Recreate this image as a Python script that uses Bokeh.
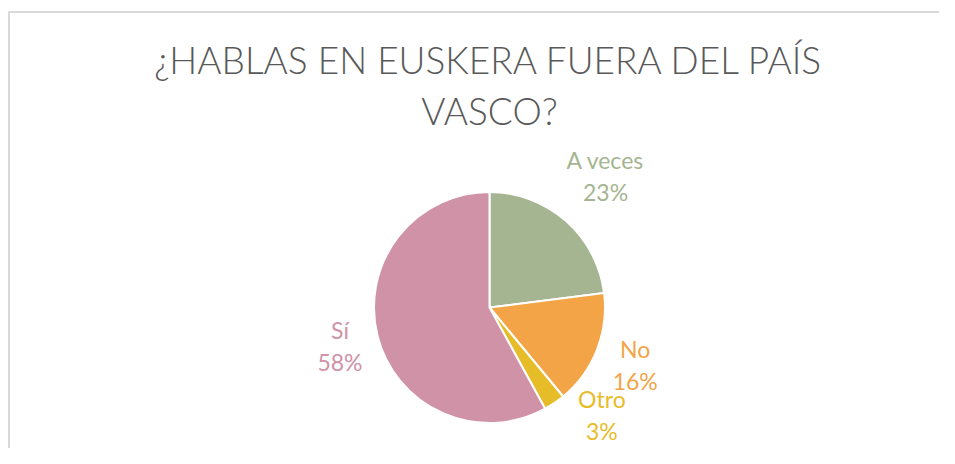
import math
from bokeh.plotting import figure
from bokeh.models import Range1d, ColumnDataSource
from bokeh.core.properties import value
from bokeh.embed import file_html
from bokeh.resources import INLINE

# ---- data ----
title_lines = ["¿HABLAS EN EUSKERA FUERA DEL PAÍS", "VASCO?"]
categories = ["A veces", "No", "Otro", "Sí"]
values = [23, 16, 3, 58]
colors = ["#A5B592", "#F3A447", "#E7BC29", "#D092A7"]

W, H = 939, 448
p = figure(width=W, height=H, output_backend="svg", toolbar_location=None,
           x_range=Range1d(0, W), y_range=Range1d(0, H), min_border=0)
p.axis.visible = False
p.grid.visible = False
p.outline_line_color = None
p.background_fill_color = "white"
p.border_fill_color = "white"

# frame of the chart area (decorative)
p.line(x=[8.5, 8.5, W + 5], y=[-5, 436.5, 436.5], line_color="#D9D9D9", line_width=2)

# title
p.text(x=[489, 489], y=[389, 338], text=title_lines,
       text_font=value("Lato Light"), text_font_size="37px", text_color="#595959",
       text_align="center", text_baseline="middle")

# pie
cx, cy, R = 489, 141, 115.5
total = sum(values)
starts, ends, mids = [], [], []
cum = 0.0
for v in values:
    a0 = math.pi / 2 - 2 * math.pi * cum / total
    cum += v
    a1 = math.pi / 2 - 2 * math.pi * cum / total
    starts.append(a0)
    ends.append(a1)
    mids.append((a0 + a1) / 2)

src = ColumnDataSource(dict(start=starts, end=ends, color=colors, cat=categories, val=values))
p.wedge(x=cx, y=cy, radius=R, start_angle="start", end_angle="end", direction="clock",
        fill_color="color", line_color="white", line_width=2, source=src)

# data labels outside
fs = 23
gap = 15
lx, ly, lt = [], [], []
for cat, v, m in zip(categories, values, mids):
    pct = f"{v}%"
    ux, uy = math.cos(m), math.sin(m)
    n = max(len(cat), len(pct))
    half_w = fs * (0.23 * n + 0.1)
    half_h = fs * 1.1
    d = R + gap + abs(ux) * half_w + abs(uy) * half_h
    x = cx + ux * d
    y = cy + uy * d
    y_min = half_h + 8
    if y < y_min:  # keep inside the drawing area, slide along the pie
        y = y_min
        top = y + half_h
        dy = top - cy
        if abs(dy) < R:
            edge = math.sqrt(R * R - dy * dy)
            x = cx + math.copysign(edge + 8 + half_w, ux)
    lx.append(x)
    ly.append(y)
    lt.append(f"{cat}\n{pct}")

p.text(x=lx, y=ly, text=lt, text_color=colors, text_font=value("Lato"),
       text_font_size=f"{fs}px", text_align="center", text_baseline="middle",
       text_line_height=1.15)

open("out.html", "w").write(file_html(p, INLINE))
